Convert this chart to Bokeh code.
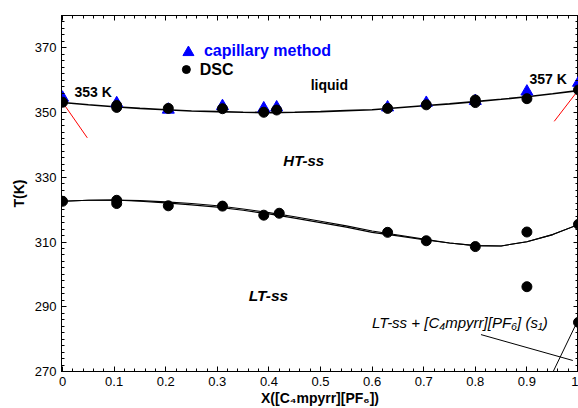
from bokeh.plotting import figure
from bokeh.models import LinearAxis, FixedTicker, CustomJSTickFormatter, CustomLabelingPolicy
from bokeh.core.properties import value
from bokeh.embed import file_html
from bokeh.resources import INLINE

# ---------------- data ----------------
# capillary method (liquidus)
cap_x = [0.0, 0.105, 0.205, 0.31, 0.39, 0.415, 0.63, 0.705, 0.80, 0.90, 1.0]
cap_T = [354.6, 352.9, 350.9, 352.0, 351.3, 351.6, 351.6, 353.0, 353.6, 356.5, 359.2]

# DSC - liquidus
dscL_x = [0.0, 0.105, 0.105, 0.205, 0.31, 0.39, 0.415, 0.63, 0.705, 0.80, 0.80, 0.90, 1.0]
dscL_T = [353.2, 352.2, 351.6, 351.3, 351.2, 350.1, 350.8, 351.3, 352.4, 353.9, 353.1, 354.3, 357.0]

# DSC - solid-solid transitions
dscS_x = [0.0, 0.105, 0.105, 0.205, 0.31, 0.39, 0.42, 0.63, 0.705, 0.80, 0.90, 0.90, 1.0, 1.0]
dscS_T = [322.6, 322.9, 321.9, 321.2, 321.1, 318.3, 318.9, 313.0, 310.4, 308.6, 313.1, 296.2, 315.5, 285.2]

# fitted curves
curve_x = [0.0, 0.05, 0.10, 0.15, 0.20, 0.25, 0.30, 0.35, 0.40, 0.45, 0.50,
           0.55, 0.60, 0.65, 0.70, 0.75, 0.80, 0.85, 0.90, 0.95, 1.0]
liq_T = [353.1, 352.4, 351.8, 351.3, 350.9, 350.5, 350.3, 350.1, 350.0, 350.1, 350.3,
         350.6, 350.9, 351.5, 352.1, 352.7, 353.4, 354.1, 354.9, 355.8, 356.8]
ss_up_T = [322.6, 322.9, 323.0, 322.8, 322.4, 321.9, 321.2, 320.2, 319.1, 317.8, 316.4,
           315.0, 313.4, 312.2, 310.9, 309.7, 308.9, 308.8, 310.1, 312.3, 315.4]
ss_lo_T = [322.6, 322.9, 323.0, 322.6, 322.1, 321.5, 320.8, 319.8, 318.7, 317.4, 316.0,
           314.6, 313.0, 311.9, 310.7, 309.7, 308.9, 308.8, 310.1, 312.3, 315.4]

x_ticks = [0.0, 0.1, 0.2, 0.3, 0.4, 0.5, 0.6, 0.7, 0.8, 0.9, 1.0]
y_ticks = [270, 290, 310, 330, 350, 370]

FONT = value("Liberation Sans")

p = figure(width=578, height=408, x_range=(-0.002, 1.0), y_range=(270, 380),
           output_backend="svg", toolbar_location=None,
           min_border_left=61, min_border_right=0, min_border_top=15, min_border_bottom=36)
p.xgrid.visible = False
p.ygrid.visible = False
p.outline_line_color = "black"
p.background_fill_color = "white"
p.border_fill_color = "white"

x_minor = [round(i * 0.02, 2) for i in range(51)]
y_minor = [270 + 2 * i for i in range(56)]
xt = FixedTicker(ticks=x_ticks, minor_ticks=x_minor)
yt = FixedTicker(ticks=y_ticks, minor_ticks=y_minor)

fmt = CustomJSTickFormatter(code="""
if (Math.abs(tick) < 1e-9) return '0';
if (Math.abs(tick - 1) < 1e-9) return '1';
return tick.toFixed(1);
""")


def style_axis(ax, labels=True):
    ax.major_tick_in = 5
    ax.major_tick_out = 0
    ax.minor_tick_in = 3
    ax.minor_tick_out = 0
    ax.axis_line_color = "black"
    ax.major_tick_line_color = "black"
    ax.minor_tick_line_color = "black"
    ax.axis_line_width = 1
    if labels:
        ax.major_label_text_font = "Liberation Sans"
        ax.major_label_text_font_size = "13px"
        ax.major_label_text_color = "black"
        ax.axis_label_text_font = "Liberation Sans"
        ax.axis_label_text_font_size = "14px"
        ax.axis_label_text_font_style = "bold"
        ax.axis_label_text_color = "black"
    else:
        ax.major_label_policy = CustomLabelingPolicy(code="")
        ax.major_label_text_font_size = "0px"
        ax.major_label_standoff = 0


xa = p.xaxis[0]
xa.ticker = xt
xa.formatter = fmt
xa.axis_label = "X([C₄mpyrr][PF₆])"
style_axis(xa)
xa.major_label_standoff = 5
xa.axis_label_standoff = 1

ya = p.yaxis[0]
ya.ticker = yt
ya.axis_label = "T(K)"
style_axis(ya)
ya.major_label_standoff = 5
ya.axis_label_standoff = 5

top = LinearAxis(ticker=FixedTicker(ticks=x_ticks, minor_ticks=x_minor))
style_axis(top, labels=False)
p.add_layout(top, "above")
right = LinearAxis(ticker=FixedTicker(ticks=y_ticks, minor_ticks=y_minor))
style_axis(right, labels=False)
p.add_layout(right, "right")

# curves
p.line(curve_x, liq_T, line_color="black", line_width=1.6)
p.line(curve_x, ss_up_T, line_color="black", line_width=1.1)
p.line(curve_x, ss_lo_T, line_color="black", line_width=1.1)

# red guide lines
p.segment(x0=[0.0, 0.996], y0=[353.2, 356.2], x1=[0.048, 0.953], y1=[342.2, 347.3],
          line_color="red", line_width=1)
# black annotation lines
p.segment(x0=[0.811, 0.997], y0=[281.4, 285.2], x1=[0.989, 0.951], y1=[273.4, 270.0],
          line_color="black", line_width=1)

# markers
p.scatter(cap_x, cap_T, marker="triangle", size=12, fill_color="#0000ff", line_color="#0000ff")
p.scatter(dscL_x, dscL_T, marker="circle", size=10, fill_color="black", line_color="black")
p.scatter(dscS_x, dscS_T, marker="circle", size=10, fill_color="black", line_color="black")

# legend (manual)
p.scatter([0.244], [368.6], marker="triangle", size=11, fill_color="#0000ff", line_color="#0000ff")
p.scatter([0.240], [363.3], marker="circle", size=8, fill_color="black", line_color="black")


def label(x, y, txt, size, style="bold", color="black", align="left"):
    p.text(x=[x], y=[y], text=[txt], text_font=FONT, text_font_size=size,
           text_font_style=style, text_color=color, text_align=align,
           text_baseline="middle")


label(0.274, 369.2, "capillary method", "16px", color="#0000ff")
label(0.266, 363.2, "DSC", "16px")
label(0.481, 358.4, "liquid", "14px")
label(0.023, 356.3, "353 K", "14px")
label(0.905, 360.3, "357 K", "14px")
label(0.428, 335.3, "HT-ss", "15px", style="bold italic")
label(0.361, 293.5, "LT-ss", "15.5px", style="bold italic")
label(0.600, 285.2, "LT-ss + [C₄mpyrr][PF₆] (s₁)", "15px", style="italic")

open("out.html", "w").write(file_html(p, INLINE))
